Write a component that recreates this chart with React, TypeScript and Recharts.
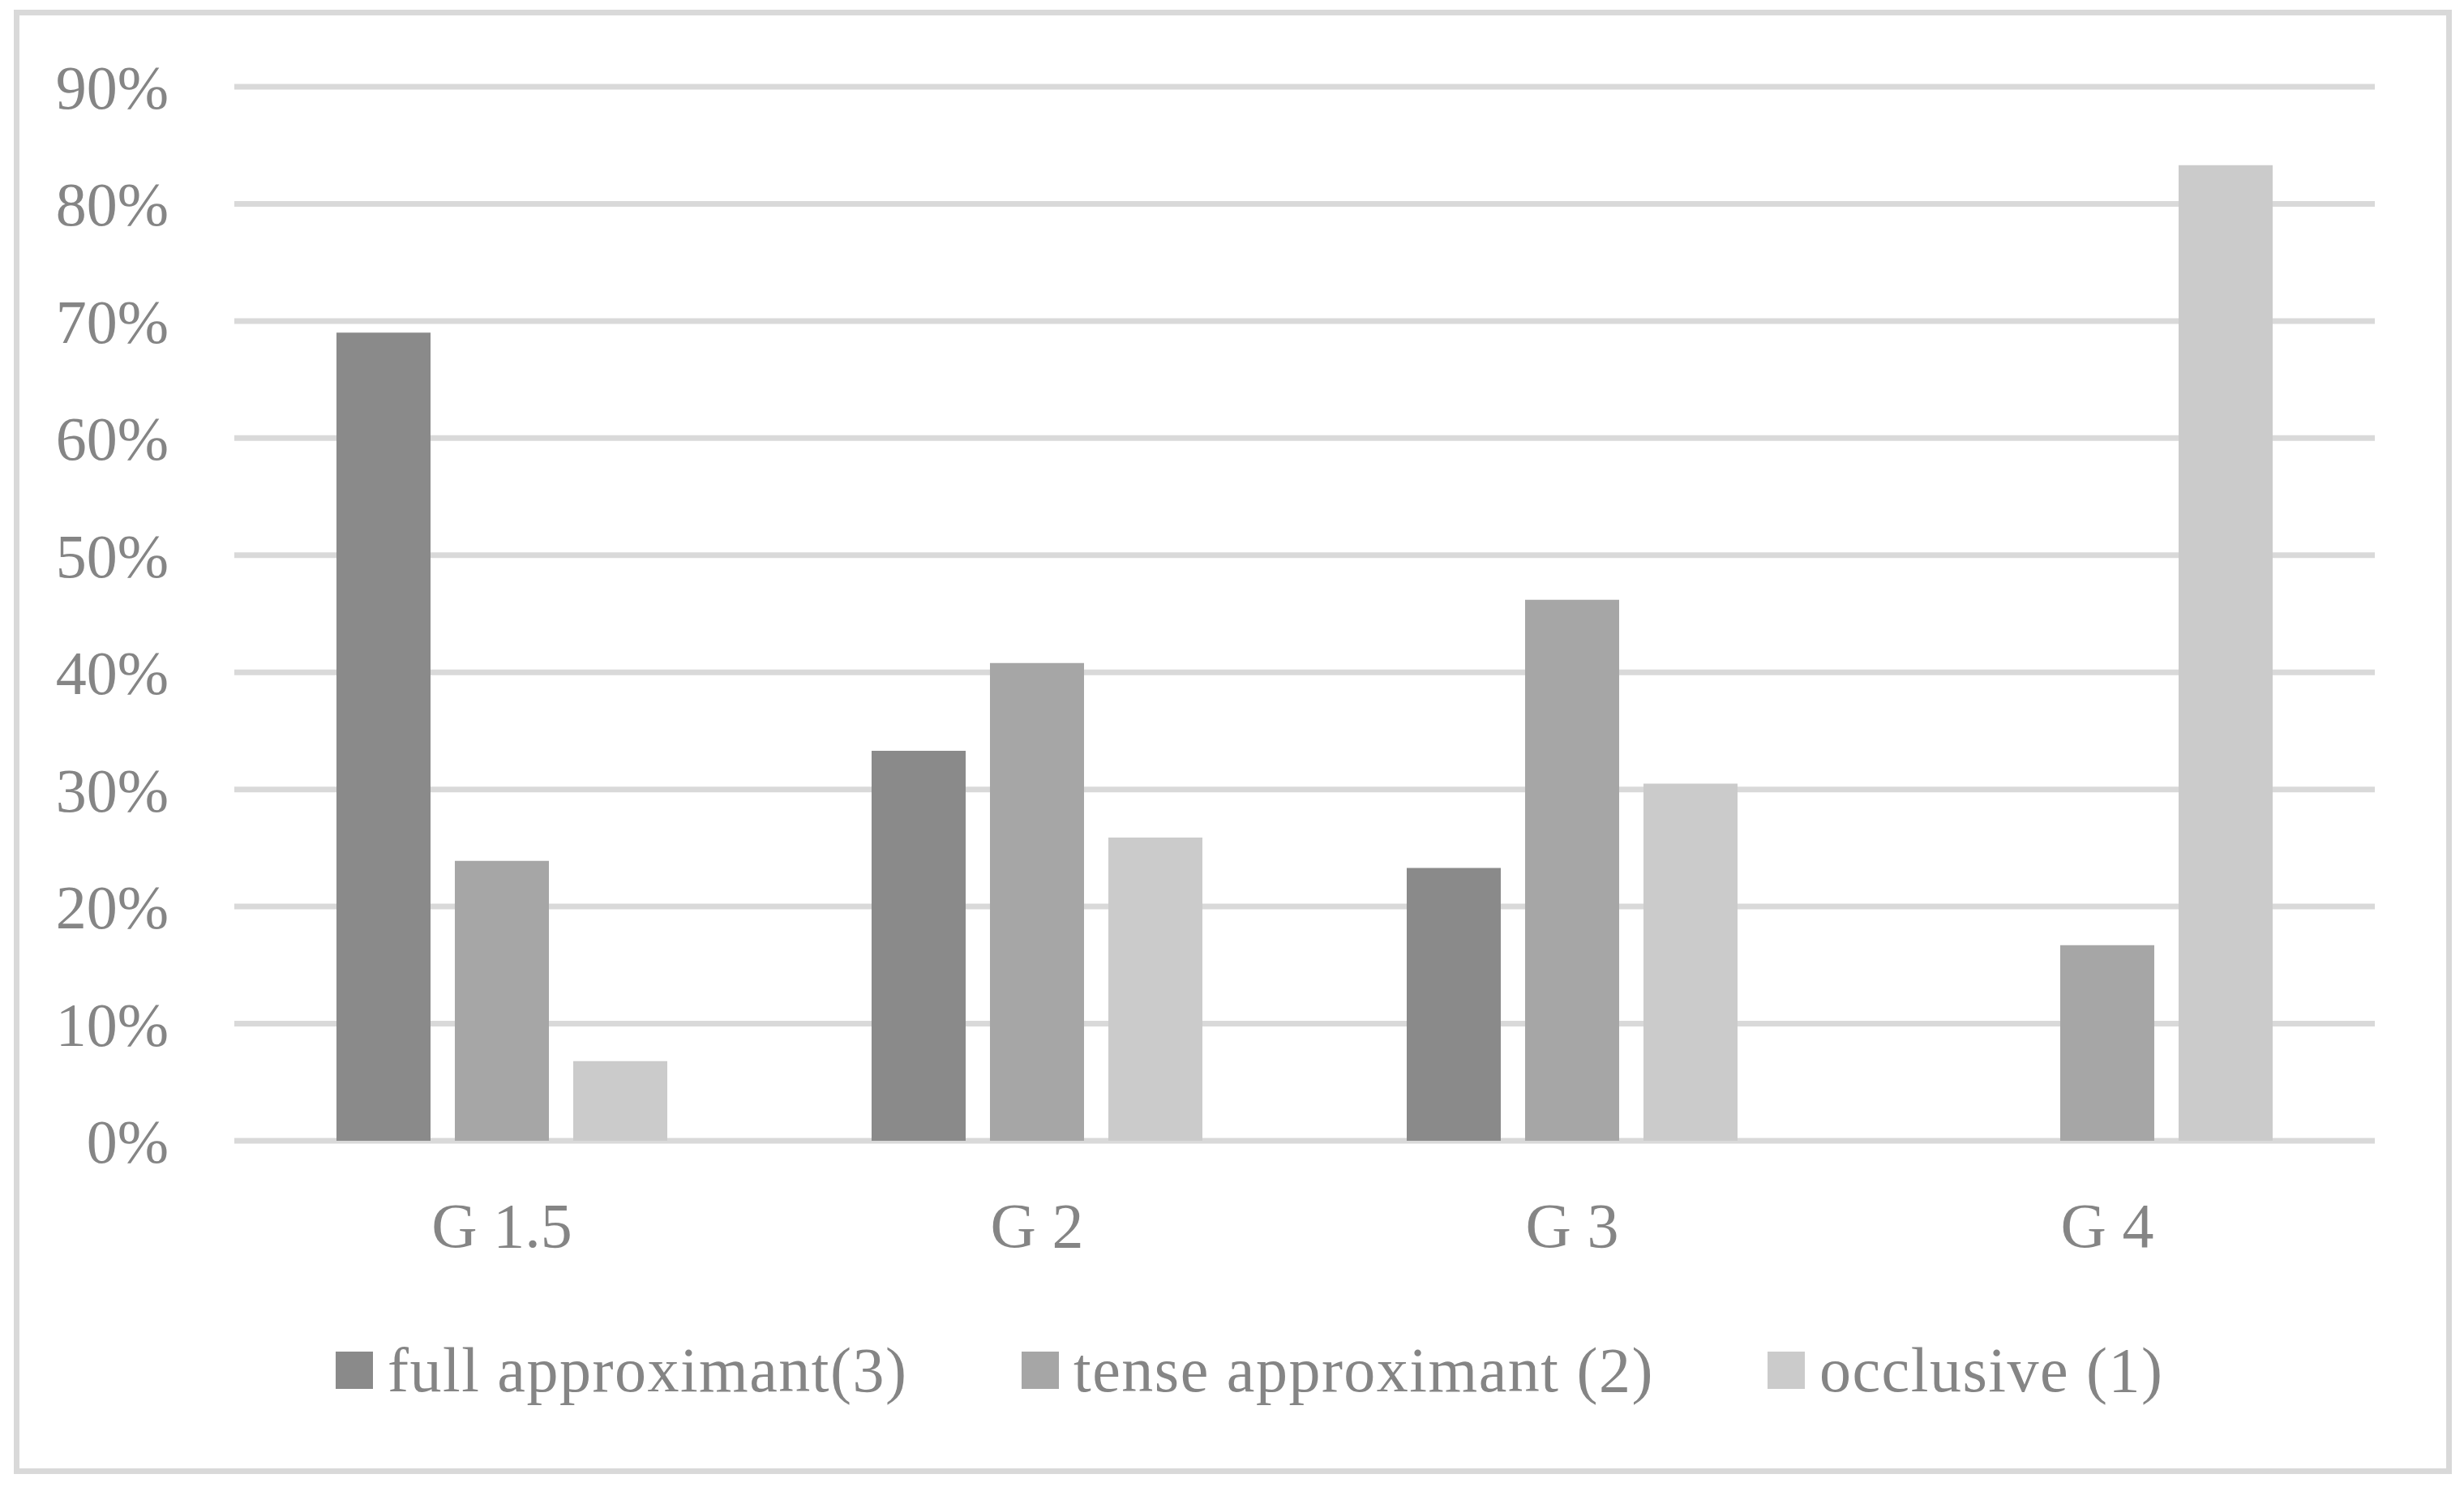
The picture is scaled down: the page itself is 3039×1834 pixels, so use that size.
import React from 'react';
import { BarChart, Bar, XAxis, YAxis, CartesianGrid, Legend } from 'recharts';

const categories = ['G 1.5', 'G 2', 'G 3', 'G 4'];
const fullApproximant = [69.0, 33.3, 23.3, 0];
const tenseApproximant = [23.9, 40.8, 46.2, 16.7];
const occlusive = [6.8, 25.9, 30.5, 83.3];
const seriesNames = ['full approximant(3)', 'tense approximant (2)', 'occlusive (1)'];
const seriesKeys = ['full', 'tense', 'occl'];
const seriesColors = ['#8a8a8a', '#a6a6a6', '#cbcbcb'];
const yTicks = [0, 10, 20, 30, 40, 50, 60, 70, 80, 90];

const data = categories.map((c, i) => ({
  category: c,
  full: fullApproximant[i],
  tense: tenseApproximant[i],
  occl: occlusive[i],
}));

const FONT = '"Liberation Serif", "Times New Roman", serif';
const TEXT = '#858585';
const W = 3039;
const H = 1834;
const legendWidths = [846, 920, 600];

const renderLegend = () => (
  <div
    style={{
      display: 'flex',
      alignItems: 'center',
      height: 120,
      paddingLeft: 414,
      boxSizing: 'border-box',
      fontFamily: FONT,
      fontSize: 78,
      color: TEXT,
      letterSpacing: 1.5,
    }}
  >
    {seriesNames.map((name, i) => (
      <div key={name} style={{ display: 'flex', alignItems: 'center', width: legendWidths[i], lineHeight: 1, whiteSpace: 'nowrap' }}>
        <div style={{ width: 46, height: 46, background: seriesColors[i], marginRight: 18, flex: 'none' }} />
        <span>{name}</span>
      </div>
    ))}
  </div>
);

export default function App() {
  return (
    <div style={{ position: 'absolute', left: 0, top: 0, width: W, height: H, background: '#ffffff' }}>
      <BarChart
        width={W}
        height={H}
        data={data}
        margin={{ top: 107, right: 110, bottom: 84, left: 0 }}
        barCategoryGap="19.09%"
        barGap={30}
      >
        <CartesianGrid vertical={false} stroke="#d9d9d9" strokeWidth={7} />
        <XAxis
          dataKey="category"
          axisLine={false}
          tickLine={false}
          tickSize={0}
          tickMargin={76}
          height={223}
          tick={{ fill: TEXT, fontSize: 78, fontFamily: FONT }}
        />
        <YAxis
          domain={[0, 90]}
          ticks={yTicks}
          axisLine={false}
          tickLine={false}
          tickSize={0}
          tickMargin={81}
          width={289}
          tickFormatter={(v: number) => `${v}%`}
          tick={{ fill: TEXT, fontSize: 76, fontFamily: FONT }}
        />
        <Legend verticalAlign="bottom" align="left" content={renderLegend} />
        {seriesKeys.map((k, i) => (
          <Bar key={k} dataKey={k} name={seriesNames[i]} fill={seriesColors[i]} isAnimationActive={false} />
        ))}
      </BarChart>
      <div
        style={{
          position: 'absolute',
          left: 17,
          top: 12,
          width: 3024 - 17,
          height: 1818 - 12,
          border: '7px solid #d9d9d9',
          boxSizing: 'border-box',
          pointerEvents: 'none',
        }}
      />
    </div>
  );
}
